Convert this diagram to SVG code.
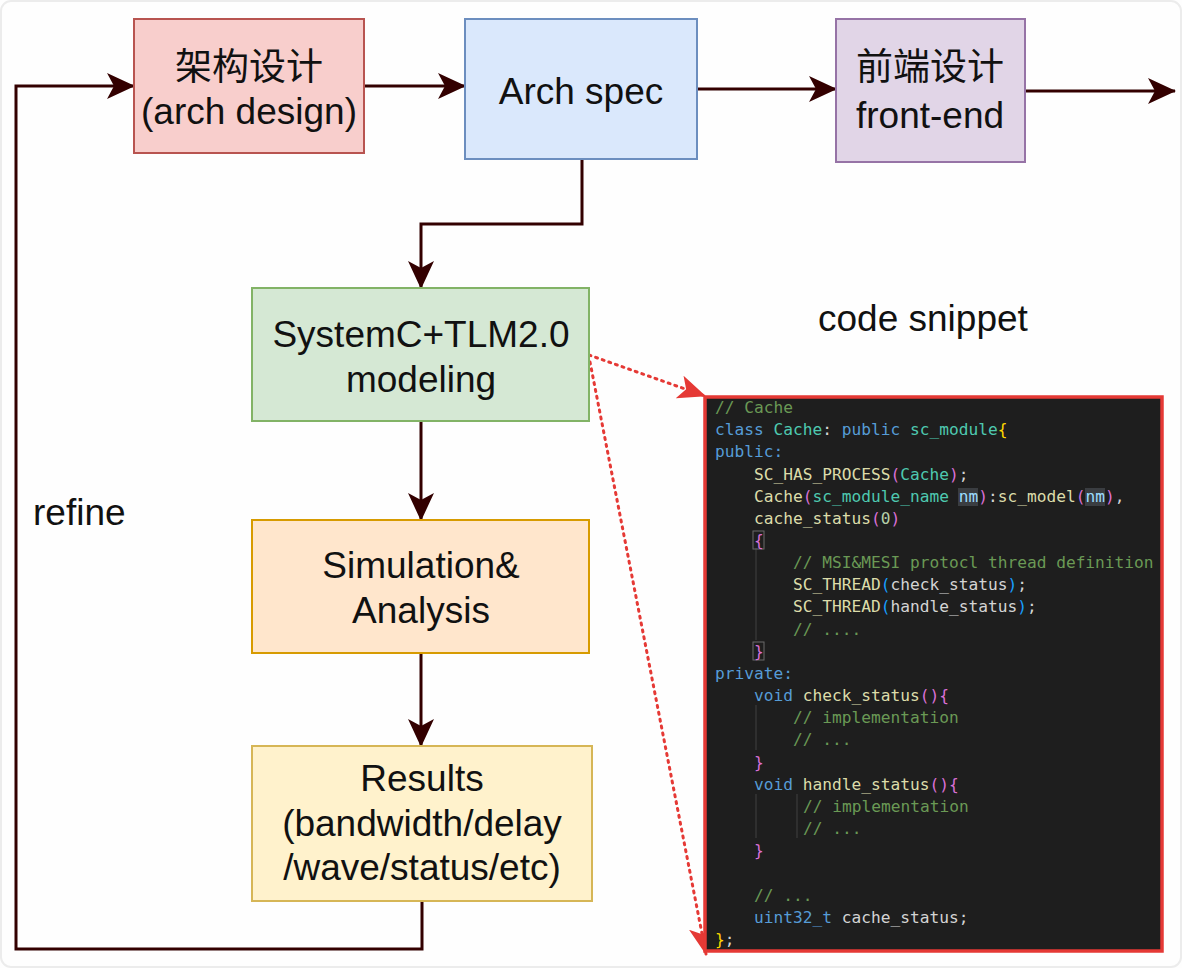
<svg xmlns="http://www.w3.org/2000/svg" width="1182" height="968" viewBox="0 0 1182 968">
<style>
.lbl{font-family:"Liberation Sans","Noto Sans CJK SC",Arial,sans-serif;font-size:37px;fill:#111;text-anchor:middle}
.free{font-family:"Liberation Sans",Arial,sans-serif;font-size:37px;fill:#111}
.box{stroke-width:2}
.conn{fill:none;stroke:#330000;stroke-width:3}
.dot{fill:none;stroke:#e53935;stroke-width:3;stroke-dasharray:2 5;stroke-linecap:round}
.code{font-family:"DejaVu Sans Mono","Liberation Mono",monospace;font-size:16.2px;fill:#d4d4d4}
.c{fill:#6a9955}.k{fill:#569cd6}.t{fill:#4ec9b0}.f{fill:#dcdcaa}.p{fill:#da70d6}.g{fill:#ffd700}.b{fill:#179fff}.v{fill:#9cdcfe}.n{fill:#b5cea8}.w{fill:#d4d4d4}
.guide{stroke:#404040;stroke-width:1}
</style>
<defs>
<marker id="ah" markerUnits="userSpaceOnUse" markerWidth="28" markerHeight="26" viewBox="0 0 28 26" refX="27" refY="13" orient="auto">
<path d="M0,0 L28,13 L0,26 L7,13 Z" fill="#330000"/>
</marker>
<marker id="rh" markerUnits="userSpaceOnUse" markerWidth="28" markerHeight="24" viewBox="0 0 28 24" refX="27" refY="12" orient="auto">
<path d="M0,0 L28,12 L0,24 L7,12 Z" fill="#e53935"/>
</marker>
</defs>
<rect x="0" y="0" width="1182" height="968" fill="#fefefe"/>
<rect x="1" y="1" width="1180" height="966" rx="10" fill="none" stroke="#ececec" stroke-width="2"/>

<g id="connectors">
<path class="conn" d="M422,901 L422,949 L16,949 L16,86 L134,86" marker-end="url(#ah)"/>
<path class="conn" d="M364,86 L465,86" marker-end="url(#ah)"/>
<path class="conn" d="M697,89 L836,89" marker-end="url(#ah)"/>
<path class="conn" d="M1025,91 L1175,91" marker-end="url(#ah)"/>
<path class="conn" d="M582,159 L582,224 L421,224 L421,288" marker-end="url(#ah)"/>
<path class="conn" d="M421,421 L421,520" marker-end="url(#ah)"/>
<path class="conn" d="M421,653 L421,746" marker-end="url(#ah)"/>
<path class="dot" d="M589,355 L705,396" marker-end="url(#rh)"/>
<path class="dot" d="M590,362 L706,954" marker-end="url(#rh)"/>
</g>

<g id="arch-design">
<rect class="box" x="134" y="19" width="230" height="134" fill="#f8cecc" stroke="#b85450"/>
<text class="lbl" x="249" y="80">架构设计</text>
<text class="lbl" x="249" y="124">(arch design)</text>
</g>

<g id="arch-spec">
<rect class="box" x="465" y="19" width="232" height="140" fill="#dae8fc" stroke="#6c8ebf"/>
<text class="lbl" x="581" y="104">Arch spec</text>
</g>

<g id="front-end">
<rect class="box" x="836" y="19" width="189" height="143" fill="#e1d5e7" stroke="#9673a6"/>
<text class="lbl" x="930" y="80">前端设计</text>
<text class="lbl" x="930" y="128">front-end</text>
</g>

<g id="systemc">
<rect class="box" x="252" y="288" width="337" height="133" fill="#d5e8d4" stroke="#82b366"/>
<text class="lbl" x="421" y="347">SystemC+TLM2.0</text>
<text class="lbl" x="421" y="392">modeling</text>
</g>

<g id="simulation">
<rect class="box" x="252" y="520" width="337" height="133" fill="#ffe6cc" stroke="#d79b00"/>
<text class="lbl" x="421" y="578">Simulation&amp;</text>
<text class="lbl" x="421" y="623">Analysis</text>
</g>

<g id="results">
<rect class="box" x="252" y="746" width="340" height="155" fill="#fff2cc" stroke="#d6b656"/>
<text class="lbl" x="422" y="791">Results</text>
<text class="lbl" x="422" y="836">(bandwidth/delay</text>
<text class="lbl" x="422" y="880">/wave/status/etc)</text>
</g>

<g id="refine-label">
<text class="free" x="33" y="525">refine</text>
</g>

<g id="code-snippet-label">
<text class="free" x="818" y="331">code snippet</text>
</g>

<g id="code-snippet">
<rect x="705" y="397" width="457" height="554" fill="#1e1e1e" stroke="#e53935" stroke-width="3.5"/>
<line class="guide" x1="756" y1="548" x2="756" y2="640"/>
<line class="guide" x1="756" y1="705" x2="756" y2="750"/>
<line class="guide" x1="756" y1="794" x2="756" y2="838"/>
<line class="guide" x1="797" y1="794" x2="797" y2="838"/>
<rect x="753" y="531" width="11" height="18" fill="none" stroke="#6a6a6a" stroke-width="1"/>
<rect x="753" y="642" width="11" height="18" fill="none" stroke="#6a6a6a" stroke-width="1"/>
<rect x="958" y="488" width="20" height="18" fill="#3a3d41"/>
<rect x="1085" y="488" width="20" height="18" fill="#3a3d41"/>
<text class="code" xml:space="preserve" x="715" y="413"><tspan class="c">// Cache</tspan></text>
<text class="code" xml:space="preserve" x="715" y="435"><tspan class="k">class</tspan> <tspan class="t">Cache</tspan><tspan class="w">:</tspan> <tspan class="k">public</tspan> <tspan class="t">sc_module</tspan><tspan class="g">{</tspan></text>
<text class="code" xml:space="preserve" x="715" y="457"><tspan class="k">public:</tspan></text>
<text class="code" xml:space="preserve" x="754" y="480"><tspan class="f">SC_HAS_PROCESS</tspan><tspan class="p">(</tspan><tspan class="t">Cache</tspan><tspan class="p">)</tspan><tspan class="w">;</tspan></text>
<text class="code" xml:space="preserve" x="754" y="502"><tspan class="f">Cache</tspan><tspan class="p">(</tspan><tspan class="t">sc_module_name</tspan> <tspan class="v">nm</tspan><tspan class="p">)</tspan><tspan class="w">:</tspan><tspan class="f">sc_model</tspan><tspan class="p">(</tspan><tspan class="v">nm</tspan><tspan class="p">)</tspan><tspan class="w">,</tspan></text>
<text class="code" xml:space="preserve" x="754" y="524"><tspan class="f">cache_status</tspan><tspan class="p">(</tspan><tspan class="n">0</tspan><tspan class="p">)</tspan></text>
<text class="code" xml:space="preserve" x="754" y="546"><tspan class="p">{</tspan></text>
<text class="code" xml:space="preserve" x="793" y="568"><tspan class="c">// MSI&amp;MESI protocl thread definition</tspan></text>
<text class="code" xml:space="preserve" x="793" y="590"><tspan class="f">SC_THREAD</tspan><tspan class="b">(</tspan><tspan class="w">check_status</tspan><tspan class="b">)</tspan><tspan class="w">;</tspan></text>
<text class="code" xml:space="preserve" x="793" y="612"><tspan class="f">SC_THREAD</tspan><tspan class="b">(</tspan><tspan class="w">handle_status</tspan><tspan class="b">)</tspan><tspan class="w">;</tspan></text>
<text class="code" xml:space="preserve" x="793" y="635"><tspan class="c">// ....</tspan></text>
<text class="code" xml:space="preserve" x="754" y="657"><tspan class="p">}</tspan></text>
<text class="code" xml:space="preserve" x="715" y="679"><tspan class="k">private:</tspan></text>
<text class="code" xml:space="preserve" x="754" y="701"><tspan class="k">void</tspan> <tspan class="f">check_status</tspan><tspan class="p">(){</tspan></text>
<text class="code" xml:space="preserve" x="793" y="723"><tspan class="c">// implementation</tspan></text>
<text class="code" xml:space="preserve" x="793" y="745"><tspan class="c">// ...</tspan></text>
<text class="code" xml:space="preserve" x="754" y="768"><tspan class="p">}</tspan></text>
<text class="code" xml:space="preserve" x="754" y="790"><tspan class="k">void</tspan> <tspan class="f">handle_status</tspan><tspan class="p">(){</tspan></text>
<text class="code" xml:space="preserve" x="803" y="812"><tspan class="c">// implementation</tspan></text>
<text class="code" xml:space="preserve" x="803" y="834"><tspan class="c">// ...</tspan></text>
<text class="code" xml:space="preserve" x="754" y="856"><tspan class="p">}</tspan></text>
<text class="code" xml:space="preserve" x="754" y="901"><tspan class="c">// ...</tspan></text>
<text class="code" xml:space="preserve" x="754" y="923"><tspan class="k">uint32_t</tspan> <tspan class="w">cache_status;</tspan></text>
<text class="code" xml:space="preserve" x="715" y="945"><tspan class="g">}</tspan><tspan class="w">;</tspan></text>
</g>
</svg>
